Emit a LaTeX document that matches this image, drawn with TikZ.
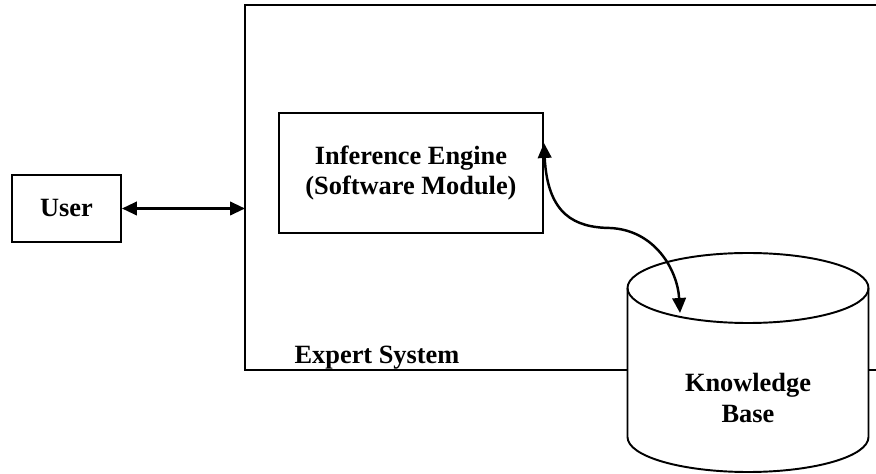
\documentclass[tikz,border=0pt]{standalone}
\usepackage{fontspec}
\setmainfont{Liberation Serif}
\usetikzlibrary{arrows.meta,positioning}

\tikzset{
  blk/.style={draw,line width=1.1pt,align=center,font=\fontsize{15}{17.5}\selectfont\bfseries},
  lbl/.style={align=center,font=\fontsize{15}{17.5}\selectfont\bfseries},
  link/.style={line width=1.4pt,{Triangle[length=0.3cm,width=0.27cm]}-{Triangle[length=0.3cm,width=0.27cm]}}
}

\begin{document}
\begin{tikzpicture}
\useasboundingbox (0,0) rectangle (17.52,-9.48);

% expert system frame (runs off the right side)
\draw[line width=1.1pt] (17.52,-0.1) -- (4.9,-0.1) -- (4.9,-7.4) -- (17.52,-7.4);
\node[lbl] (es) at (7.54,-7.16) {Expert System};

\node[blk,minimum width=2.18cm,minimum height=1.34cm] (user) at (1.33,-4.17) {User};
\node[blk,minimum width=5.28cm,minimum height=2.4cm] (inf) at (8.22,-3.46)
  {Inference Engine\\(Software Module)};
\coordinate (frame) at (4.9,-4.17);

% knowledge base cylinder
\filldraw[fill=white,line width=1.1pt] (12.55,-5.76) -- (12.55,-8.74)
  arc[start angle=180,end angle=360,x radius=2.41cm,y radius=0.7cm]
  -- (17.37,-5.76) arc[start angle=0,end angle=180,x radius=2.41cm,y radius=0.7cm];
\draw[line width=1.1pt] (12.55,-5.76)
  arc[start angle=180,end angle=360,x radius=2.41cm,y radius=0.7cm];
\node[lbl] (kb) at (14.96,-7.96) {Knowledge\\Base};
\coordinate (kbtop) at (13.6,-6.26);

\draw[link] (user.east) -- (frame);
\draw[link] ([yshift=0.6cm]inf.east) .. controls (10.95,-4.3) and (11.5,-4.55) .. (12.2,-4.56)
  .. controls (13.1,-4.6) and (13.55,-5.4) .. (kbtop);
\end{tikzpicture}
\end{document}
